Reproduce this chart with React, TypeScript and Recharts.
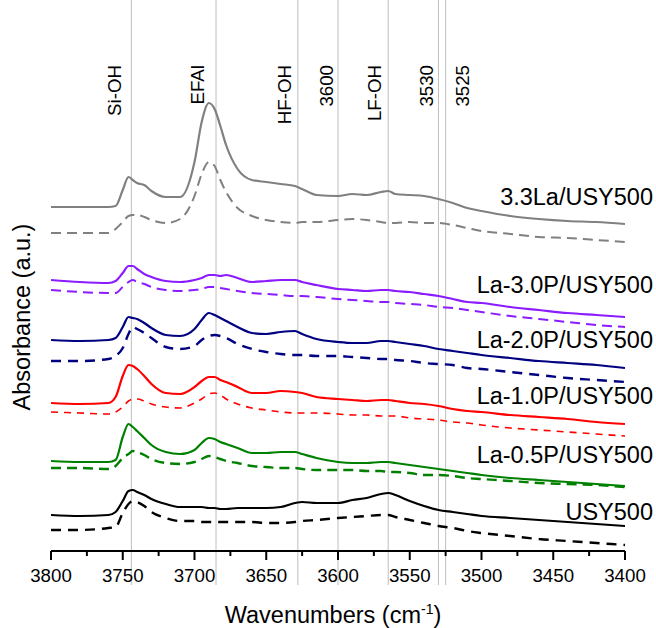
import { Line, LineChart, ReferenceDot, ReferenceLine, XAxis, YAxis } from "recharts"

// wavenumber grid (cm-1) shared by every spectrum
const wavenumbers = [
  3800, 3780, 3760, 3755, 3750, 3746, 3743, 3740, 3735, 3730,
  3720, 3710, 3700, 3695, 3690, 3686, 3682, 3678, 3670, 3660,
  3650, 3640, 3630, 3625, 3615, 3600, 3590, 3580, 3570, 3565,
  3560, 3550, 3540, 3530, 3520, 3510, 3500, 3480, 3460, 3440,
  3420, 3400,
]

// absorbance (a.u., stacked offsets) — solid = first spectrum, dashed = second
const la33 = [
  3.44, 3.44, 3.44, 3.45, 3.61, 3.74, 3.71, 3.68, 3.66, 3.6,
  3.54, 3.54, 3.89, 4.29, 4.48, 4.42, 4.25, 4.06, 3.82, 3.71,
  3.69, 3.67, 3.65, 3.62, 3.56, 3.55, 3.57, 3.56, 3.59, 3.6,
  3.57, 3.56, 3.55, 3.52, 3.48, 3.43, 3.4, 3.35, 3.32, 3.3,
  3.29, 3.27,
]
const la33Dash = [
  3.18, 3.18, 3.18, 3.22, 3.29, 3.35, 3.36, 3.36, 3.34, 3.31,
  3.28, 3.32, 3.55, 3.77, 3.89, 3.85, 3.71, 3.59, 3.43, 3.35,
  3.31, 3.29, 3.28, 3.29, 3.29, 3.31, 3.32, 3.31, 3.29, 3.28,
  3.28, 3.29, 3.28, 3.28, 3.26, 3.23, 3.2, 3.17, 3.14, 3.13,
  3.11, 3.09,
]
const p30 = [
  2.71, 2.69, 2.68, 2.7, 2.78, 2.85, 2.85, 2.82, 2.77, 2.74,
  2.7, 2.69, 2.71, 2.73, 2.76, 2.76, 2.75, 2.76, 2.73, 2.69,
  2.7, 2.71, 2.71, 2.69, 2.66, 2.62, 2.61, 2.6, 2.61, 2.61,
  2.6, 2.59, 2.57, 2.55, 2.52, 2.49, 2.48, 2.44, 2.41, 2.38,
  2.36, 2.34,
]
const p30Dash = [
  2.61, 2.59, 2.58, 2.58, 2.64, 2.69, 2.71, 2.69, 2.67, 2.64,
  2.61, 2.6, 2.61, 2.62, 2.64, 2.64, 2.63, 2.62, 2.6, 2.58,
  2.57, 2.56, 2.55, 2.55, 2.54, 2.52, 2.51, 2.5, 2.49, 2.49,
  2.48, 2.47, 2.46, 2.44, 2.43, 2.41, 2.39, 2.35, 2.32, 2.29,
  2.26, 2.24,
]
const p20 = [
  2.11, 2.1, 2.11, 2.13, 2.24, 2.34, 2.33, 2.32, 2.28, 2.23,
  2.16, 2.15, 2.22, 2.31, 2.38, 2.36, 2.33, 2.3, 2.24, 2.18,
  2.17, 2.19, 2.2, 2.17, 2.12, 2.09, 2.08, 2.08, 2.1, 2.1,
  2.09, 2.07, 2.05, 2.02, 2.0, 1.98, 1.96, 1.93, 1.9, 1.88,
  1.86, 1.83,
]
const p20Dash = [
  1.9, 1.9, 1.92, 1.95, 2.03, 2.17, 2.24, 2.22, 2.18, 2.13,
  2.04, 2.02, 2.05, 2.11, 2.15, 2.16, 2.15, 2.13, 2.07, 2.02,
  1.99, 1.97, 1.96, 1.96, 1.95, 1.95, 1.94, 1.93, 1.92, 1.92,
  1.91, 1.9, 1.88, 1.87, 1.86, 1.83, 1.82, 1.79, 1.76, 1.73,
  1.71, 1.69,
]
const p10 = [
  1.48, 1.47, 1.48, 1.54, 1.75, 1.86, 1.85, 1.82, 1.75, 1.67,
  1.58, 1.57, 1.64, 1.7, 1.74, 1.74, 1.71, 1.69, 1.64, 1.58,
  1.58, 1.6, 1.59, 1.58, 1.54, 1.52, 1.51, 1.5, 1.51, 1.51,
  1.5, 1.48, 1.47, 1.45, 1.42, 1.4, 1.39, 1.36, 1.34, 1.32,
  1.29, 1.27,
]
const p10Dash = [
  1.39, 1.38, 1.37, 1.39, 1.44, 1.5, 1.52, 1.52, 1.5, 1.47,
  1.44, 1.43, 1.48, 1.52, 1.57, 1.58, 1.56, 1.52, 1.47, 1.43,
  1.41, 1.39, 1.38, 1.38, 1.38, 1.37, 1.36, 1.36, 1.35, 1.35,
  1.35, 1.33, 1.32, 1.31, 1.29, 1.28, 1.26, 1.23, 1.21, 1.19,
  1.17, 1.15,
]
const p05 = [
  0.9, 0.89, 0.89, 0.91, 1.14, 1.27, 1.24, 1.2, 1.13, 1.06,
  0.99, 0.97, 1.01, 1.08, 1.13, 1.12, 1.09, 1.07, 1.03, 0.98,
  0.98, 0.99, 0.99, 0.97, 0.93, 0.89, 0.88, 0.88, 0.89, 0.89,
  0.88, 0.86, 0.84, 0.82, 0.8, 0.78, 0.76, 0.73, 0.71, 0.69,
  0.67, 0.65,
]
const p05Dash = [
  0.83, 0.83, 0.82, 0.85, 0.93, 0.97, 1.0, 0.99, 0.96, 0.92,
  0.88, 0.87, 0.89, 0.92, 0.95, 0.94, 0.92, 0.9, 0.88, 0.85,
  0.84, 0.83, 0.83, 0.82, 0.81, 0.81, 0.81, 0.8, 0.8, 0.79,
  0.79, 0.78, 0.76, 0.76, 0.75, 0.73, 0.72, 0.7, 0.68, 0.67,
  0.66, 0.64,
]
const usy = [
  0.36, 0.35, 0.36, 0.39, 0.5, 0.6, 0.61, 0.59, 0.56, 0.52,
  0.47, 0.44, 0.44, 0.44, 0.43, 0.43, 0.42, 0.42, 0.43, 0.43,
  0.43, 0.44, 0.48, 0.49, 0.48, 0.48, 0.51, 0.53, 0.57, 0.58,
  0.56, 0.5, 0.45, 0.41, 0.39, 0.37, 0.35, 0.33, 0.31, 0.29,
  0.27, 0.25,
]
const usyDash = [
  0.21, 0.21, 0.23, 0.24, 0.38, 0.47, 0.5, 0.49, 0.45, 0.39,
  0.33, 0.3, 0.3, 0.29, 0.29, 0.29, 0.29, 0.29, 0.29, 0.29,
  0.28, 0.28, 0.29, 0.3, 0.31, 0.33, 0.34, 0.35, 0.36, 0.36,
  0.34, 0.31, 0.28, 0.25, 0.23, 0.2, 0.18, 0.15, 0.12, 0.1,
  0.08, 0.06,
]

// band positions marked with vertical lines
const bands = [3744, 3685, 3628, 3600, 3565, 3530, 3525]
const bandNames = ["Si-OH", "EFAl", "HF-OH", "3600", "LF-OH", "3530", "3525"]

const xTicks = [
  3800, 3775, 3750, 3725, 3700, 3675, 3650, 3625, 3600,
  3575, 3550, 3525, 3500, 3475, 3450, 3425, 3400,
]

const sampleNames = [
  "3.3La/USY500",
  "La-3.0P/USY500",
  "La-2.0P/USY500",
  "La-1.0P/USY500",
  "La-0.5P/USY500",
  "USY500",
]

const data = wavenumbers.map((wn, i) => ({
  wn,
  la33: la33[i],
  la33Dash: la33Dash[i],
  p30: p30[i],
  p30Dash: p30Dash[i],
  p20: p20[i],
  p20Dash: p20Dash[i],
  p10: p10[i],
  p10Dash: p10Dash[i],
  p05: p05[i],
  p05Dash: p05Dash[i],
  usy: usy[i],
  usyDash: usyDash[i],
}))

const FONT = "'Liberation Sans', Arial, sans-serif"

const series = [
  { key: "la33", color: "#808080", width: 2.2 },
  { key: "la33Dash", color: "#808080", width: 2, dash: "10 6" },
  { key: "p30", color: "#8b1cff", width: 2.2 },
  { key: "p30Dash", color: "#8b1cff", width: 2, dash: "10 6" },
  { key: "p20", color: "#000080", width: 2.2 },
  { key: "p20Dash", color: "#000080", width: 2.4, dash: "10 7" },
  { key: "p10", color: "#ff0000", width: 2.2 },
  { key: "p10Dash", color: "#ff0000", width: 1.6, dash: "7 6" },
  { key: "p05", color: "#008000", width: 2.2 },
  { key: "p05Dash", color: "#008000", width: 2.4, dash: "10 6" },
  { key: "usy", color: "#000000", width: 2.2 },
  { key: "usyDash", color: "#000000", width: 2.4, dash: "10 7" },
]

// label placement (baseline offset from line, in px) and series label anchors (a.u.)
const bandLabelDx = [-10, -12, -7, -5, -7, -5, 23]
const sampleLabelY = [3.46, 2.58, 2.03, 1.47, 0.88, 0.31]

const AxisTick = (props: any) => {
  const { x, y, payload } = props
  const major = payload.value % 50 === 0
  return (
    <g>
      <line x1={x} x2={x} y1={y} y2={y + (major ? 9 : 5)} stroke="#000" strokeWidth={2} />
      {major && (
        <text x={x} y={y + 31} textAnchor="middle" fontSize={18.7} fontFamily={FONT} fill="#000">
          {payload.value}
        </text>
      )}
    </g>
  )
}

const BandLabel = (props: any) => {
  const { viewBox, text, dx } = props
  const bx = viewBox.x + dx
  const by = viewBox.y + 65
  return (
    <text
      x={bx}
      y={by}
      transform={`rotate(-90 ${bx} ${by})`}
      textAnchor="end"
      fontSize={18.7}
      fontFamily={FONT}
      fill="#000"
    >
      {text}
    </text>
  )
}

const SampleLabel = (props: any) => {
  const { viewBox, text } = props
  return (
    <text x={viewBox.x + 28} y={viewBox.y} textAnchor="end" fontSize={23.5} fontFamily={FONT} fill="#000">
      {text}
    </text>
  )
}

const XTitle = (props: any) => {
  const { viewBox } = props
  return (
    <text
      x={viewBox.x + viewBox.width / 2 - 5}
      y={viewBox.y + 72}
      textAnchor="middle"
      fontSize={23.5}
      fontFamily={FONT}
      fill="#000"
    >
      <tspan>Wavenumbers (cm</tspan>
      <tspan fontSize={14} dy={-9}>-1</tspan>
      <tspan dy={9}>)</tspan>
    </text>
  )
}

const YTitle = (props: any) => {
  const { viewBox } = props
  const tx = viewBox.x - 21
  const ty = viewBox.y
  return (
    <text
      x={tx}
      y={ty}
      transform={`rotate(-90 ${tx} ${ty})`}
      textAnchor="middle"
      fontSize={23.5}
      fontFamily={FONT}
      fill="#000"
    >
      Absorbance (a.u.)
    </text>
  )
}

export default function App() {
  return (
    <div style={{ position: "absolute", left: 0, top: 0, background: "#fff" }}>
      <LineChart
        width={656}
        height={628}
        data={data}
        margin={{ top: 88, right: 31, bottom: 0, left: 51 }}
      >
        <XAxis
          dataKey="wn"
          type="number"
          domain={[3400, 3800]}
          reversed
          ticks={xTicks}
          interval={0}
          tick={<AxisTick />}
          tickLine={false}
          tickSize={0}
          tickMargin={0}
          height={77}
          axisLine={{ stroke: "#000", strokeWidth: 2 }}
          label={<XTitle />}
          allowDataOverflow
        />
        <YAxis
          type="number"
          domain={[0, 4.63]}
          width={0}
          tick={false}
          tickLine={false}
          axisLine={{ stroke: "#000", strokeWidth: 2 }}
          allowDataOverflow
        />
        {bands.map((wn, i) => (
          <ReferenceLine
            key={wn}
            segment={[
              { x: wn, y: 5.51 },
              { x: wn, y: -0.34 },
            ]}
            stroke="#bfbfbf"
            strokeWidth={1}
            ifOverflow="visible"
            label={<BandLabel text={bandNames[i]} dx={bandLabelDx[i]} />}
          />
        ))}
        {series.map((s) => (
          <Line
            key={s.key}
            dataKey={s.key}
            type="monotone"
            stroke={s.color}
            strokeWidth={s.width}
            strokeDasharray={s.dash}
            dot={false}
            activeDot={false}
            isAnimationActive={false}
          />
        ))}
        {sampleNames.map((name, i) => (
          <ReferenceDot
            key={name}
            x={3400}
            y={sampleLabelY[i]}
            r={0}
            fill="none"
            stroke="none"
            ifOverflow="visible"
            label={<SampleLabel text={name} />}
          />
        ))}
        <ReferenceDot
          x={3800}
          y={2.34}
          r={0}
          fill="none"
          stroke="none"
          ifOverflow="visible"
          label={<YTitle />}
        />
      </LineChart>
    </div>
  )
}
